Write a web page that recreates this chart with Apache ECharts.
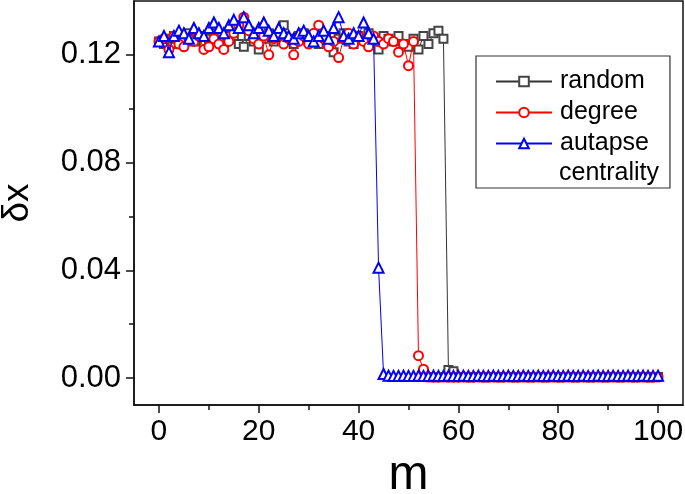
<!DOCTYPE html>
<html>
<head>
<meta charset="utf-8">
<script src="https://cdn.jsdelivr.net/npm/echarts@6/dist/echarts.min.js"></script>
<style>
html,body{margin:0;padding:0;background:#fff;}
#chart{width:685px;height:494px;}
</style>
</head>
<body>
<div id="chart"></div>
<script>
// m = 0..100
const mValues = [];
for (let i = 0; i <= 100; i++) mValues.push(i);

const randomVals = [
0.125,0.124,0.126,0.127,0.124,0.126,0.128,0.125,0.127,0.124,
0.126,0.128,0.125,0.123,0.127,0.126,0.124,0.123,0.127,0.125,
0.122,0.126,0.128,0.125,0.127,0.131,0.126,0.124,0.127,0.128,
0.125,0.126,0.124,0.127,0.125,0.121,0.126,0.128,0.125,0.124,
0.127,0.126,0.128,0.125,0.122,0.127,0.126,0.125,0.127,0.124,
0.123,0.126,0.122,0.127,0.124,0.128,0.129,0.126,0.0030,0.0025,
0.0004,0.0004,0.0003,0.0004,0.0004,0.0003,0.0004,0.0004,0.0003,0.0004,
0.0004,0.0003,0.0004,0.0004,0.0003,0.0004,0.0004,0.0003,0.0004,0.0004,
0.0003,0.0004,0.0004,0.0003,0.0004,0.0004,0.0003,0.0004,0.0004,0.0003,
0.0004,0.0004,0.0003,0.0004,0.0004,0.0003,0.0004,0.0004,0.0003,0.0004,
0.0004];

const degreeVals = [
0.125,0.126,0.122,0.127,0.124,0.123,0.126,0.125,0.127,0.122,
0.123,0.126,0.124,0.122,0.125,0.128,0.131,0.134,0.129,0.126,
0.124,0.127,0.120,0.126,0.128,0.124,0.126,0.120,0.125,0.127,
0.124,0.128,0.131,0.126,0.123,0.125,0.119,0.126,0.128,0.124,
0.127,0.125,0.123,0.127,0.125,0.124,0.126,0.125,0.121,0.124,
0.116,0.125,0.0083,0.0033,0.0004,0.0003,0.0003,0.0004,0.0003,0.0003,
0.0003,0.0004,0.0003,0.0003,0.0004,0.0003,0.0003,0.0004,0.0003,0.0003,
0.0004,0.0003,0.0003,0.0004,0.0003,0.0003,0.0004,0.0003,0.0003,0.0004,
0.0003,0.0003,0.0004,0.0003,0.0003,0.0004,0.0003,0.0003,0.0004,0.0003,
0.0003,0.0004,0.0003,0.0003,0.0004,0.0003,0.0003,0.0004,0.0003,0.0003,
0.0004];

const autapseVals = [
0.125,0.127,0.121,0.127,0.129,0.128,0.126,0.130,0.128,0.127,
0.130,0.132,0.130,0.128,0.131,0.133,0.130,0.134,0.131,0.128,
0.130,0.132,0.129,0.127,0.130,0.128,0.127,0.126,0.128,0.129,
0.127,0.125,0.127,0.129,0.126,0.130,0.134,0.127,0.126,0.128,
0.127,0.132,0.128,0.126,0.041,0.0015,0.0009,0.0008,0.0008,0.0009,
0.0008,0.0008,0.0009,0.0008,0.0008,0.0009,0.0008,0.0008,0.0009,0.0008,
0.0008,0.0009,0.0008,0.0008,0.0009,0.0008,0.0008,0.0009,0.0008,0.0008,
0.0009,0.0008,0.0008,0.0009,0.0008,0.0008,0.0009,0.0008,0.0008,0.0009,
0.0008,0.0008,0.0009,0.0008,0.0008,0.0009,0.0008,0.0008,0.0009,0.0008,
0.0008,0.0009,0.0008,0.0008,0.0009,0.0008,0.0008,0.0009,0.0008,0.0008,
0.0009];

const xTickLabels = [0, 20, 40, 60, 80, 100];
const xMinorTicks = [10, 30, 50, 70, 90];
const yTickLabels = [0, 0.04, 0.08, 0.12];
const yMinorTicks = [0.02, 0.06, 0.10];
const seriesNames = ['random', 'degree', 'autapse'];

function pairs(vals){ return vals.map((v,i)=>[mValues[i], v]); }

const chart = echarts.init(document.getElementById('chart'), null, {renderer:'canvas'});
const font = 'Liberation Sans, Arial, sans-serif';

chart.setOption({
  animation: false,
  backgroundColor: '#fff',
  grid: {left: 134, right: 2, top: 1, bottom: 89, show: true, borderColor: '#111', borderWidth: 1.5,
    backgroundColor: 'transparent', containLabel: false, outerBoundsMode: 'none'},
  xAxis: [{
    type: 'value', min: -5, max: 105,
    name: 'm', nameLocation: 'middle', nameGap: 40,
    nameTextStyle: {fontFamily: font, fontSize: 48, color: '#000'},
    axisLine: {show: true, onZero: false, lineStyle: {color: '#111', width: 1.5}},
    axisTick: {show: true, inside: false, length: 8, customValues: xTickLabels, lineStyle: {color: '#111', width: 1.5}},
    axisLabel: {customValues: xTickLabels, margin: 12, fontFamily: font, fontSize: 30, color: '#000'},
    splitLine: {show: false}
  }, {
    type: 'value', min: -5, max: 105, position: 'bottom',
    axisLine: {show: false, onZero: false},
    axisTick: {show: true, inside: false, length: 5, customValues: xMinorTicks, lineStyle: {color: '#111', width: 1.5}},
    axisLabel: {show: false},
    splitLine: {show: false}
  }],
  yAxis: [{
    type: 'value', min: -0.01, max: 0.14,
    name: 'δx', nameLocation: 'middle', nameGap: 98, nameRotate: 90,
    nameTextStyle: {fontFamily: font, fontSize: 37, color: '#000'},
    axisLine: {show: true, onZero: false, lineStyle: {color: '#111', width: 1.5}},
    axisTick: {show: true, inside: false, length: 8, customValues: yTickLabels, lineStyle: {color: '#111', width: 1.5}},
    axisLabel: {customValues: yTickLabels, margin: 13, fontFamily: font, fontSize: 31, color: '#000',
      formatter: v => Number(v).toFixed(2)},
    splitLine: {show: false}
  }, {
    type: 'value', min: -0.01, max: 0.14, position: 'left',
    axisLine: {show: false, onZero: false},
    axisTick: {show: true, inside: false, length: 5, customValues: yMinorTicks, lineStyle: {color: '#111', width: 1.5}},
    axisLabel: {show: false},
    splitLine: {show: false}
  }],
  legend: {
    orient: 'vertical', left: 476, top: 56,
    padding: [10, 21, 29, 19],
    itemWidth: 56, itemHeight: 12, itemGap: 0,
    borderColor: '#333', borderWidth: 1.2,
    textStyle: {fontFamily: font, fontSize: 25, color: '#000', lineHeight: 31, padding: [0,0,0,3]},
    data: seriesNames
  },
  graphic: [{
    type: 'text', left: 559, top: 161,
    style: {text: 'centrality', font: '25px ' + font, fill: '#000'}
  }],
  series: [{
    name: seriesNames[0], type: 'line', data: pairs(randomVals),
    symbol: 'emptyRect', symbolSize: 8,
    lineStyle: {color: '#333', width: 1},
    itemStyle: {color: '#444', borderWidth: 1},
    z: 2
  }, {
    name: seriesNames[1], type: 'line', data: pairs(degreeVals),
    symbol: 'emptyCircle', symbolSize: 9,
    lineStyle: {color: '#ff0000', width: 1},
    itemStyle: {color: '#ff0000', borderWidth: 1},
    z: 3
  }, {
    name: seriesNames[2], type: 'line', data: pairs(autapseVals),
    symbol: 'emptyTriangle', symbolSize: 10,
    lineStyle: {color: '#0000ff', width: 1},
    itemStyle: {color: '#0000ff', borderWidth: 1},
    z: 4
  }]
});
</script>
</body>
</html>
